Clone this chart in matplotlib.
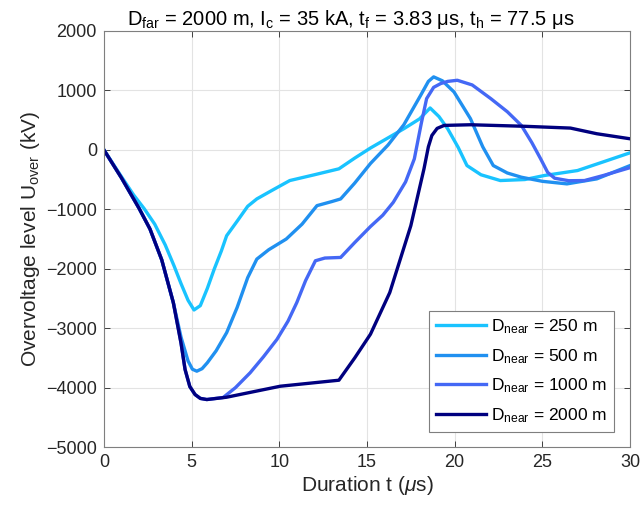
import numpy as np
import matplotlib.pyplot as plt

plt.rcParams['font.family'] = ['Liberation Sans', 'DejaVu Sans']
plt.rcParams['mathtext.fontset'] = 'custom'
plt.rcParams['mathtext.rm'] = 'Liberation Sans'
plt.rcParams['mathtext.it'] = 'Liberation Sans:italic'

# D_near = 250 m
t_250 = [0, 1.0, 1.7, 2.3, 2.9, 3.5, 4.0, 4.4, 4.8, 5.14, 5.5, 5.9, 6.3, 6.7, 7.0,
         7.6, 8.2, 8.72, 9.6, 10.6, 12.0, 13.4, 14.3, 15.2, 16.2, 17.1, 18.0, 18.6,
         19.1, 19.6, 20.2, 20.7, 21.5, 22.6, 24.0, 25.1, 27.0, 28.5, 30]
u_250 = [0, -450, -760, -990, -1250, -1600, -1950, -2250, -2530, -2693, -2620, -2330,
         -2000, -1700, -1445, -1200, -950, -826, -680, -517, -420, -320, -140, 30, 200,
         354, 520, 703, 560, 354, 40, -265, -420, -517, -500, -433, -349, -200, -50]

# D_near = 500 m
t_500 = [0, 1.0, 2.0, 2.63, 3.3, 3.96, 4.4, 4.8, 5.05, 5.3, 5.6, 5.9, 6.4, 7.0, 7.6,
         8.2, 8.72, 9.4, 10.4, 11.3, 12.15, 13.0, 13.5, 14.3, 15.2, 16.2, 17.1, 18.06,
         18.5, 18.8, 19.3, 19.96, 20.9, 21.6, 22.2, 23.0, 23.8, 25.0, 26.4, 28.1, 30]
u_500 = [0, -470, -980, -1332, -1850, -2568, -3150, -3550, -3690, -3722, -3680, -3580,
         -3380, -3075, -2650, -2150, -1838, -1680, -1500, -1250, -939, -870, -826, -560,
         -230, 80, 420, 916, 1150, 1226, 1160, 973, 523, 50, -265, -390, -461, -530,
         -573, -489, -265]

# D_near = 1000 m
t_1000 = [0, 1.0, 2.0, 2.63, 3.3, 3.96, 4.4, 4.63, 4.9, 5.2, 5.5, 5.87, 6.8, 7.5, 8.34,
          9.1, 9.87, 10.5, 11.0, 11.5, 12.06, 12.6, 13.5, 14.3, 15.2, 15.9, 16.5, 17.2,
          17.7, 18.1, 18.4, 18.8, 19.2, 19.6, 20.15, 21.0, 22.06, 23.0, 23.8, 24.4, 24.9,
          25.3, 25.7, 26.5, 27.4, 28.5, 30]
u_1000 = [0, -470, -980, -1332, -1850, -2568, -3250, -3693, -3980, -4115, -4180, -4199,
          -4165, -4000, -3749, -3480, -3187, -2880, -2568, -2200, -1866, -1820, -1810,
          -1560, -1290, -1100, -883, -540, -152, 450, 860, 1050, 1113, 1150, 1169, 1090,
          860, 640, 410, 120, -152, -380, -478, -520, -517, -430, -300]

# D_near = 2000 m
t_2000 = [0, 1.0, 2.0, 2.63, 3.3, 3.96, 4.4, 4.63, 4.9, 5.2, 5.5, 5.87, 7.0, 10.06, 13.4,
          14.3, 15.2, 16.3, 17.5, 18.25, 18.5, 18.7, 19.0, 19.4, 20.9, 24.0, 26.6, 28.1, 30]
u_2000 = [0, -470, -980, -1332, -1850, -2568, -3250, -3693, -3980, -4115, -4180, -4199,
          -4160, -3975, -3874, -3500, -3100, -2400, -1276, -320, 50, 241, 360, 410, 421,
          395, 365, 270, 185]

series = [
    (t_250, u_250, '#19c3ff', '250 m'),
    (t_500, u_500, '#2090f0', '500 m'),
    (t_1000, u_1000, '#4468f5', '1000 m'),
    (t_2000, u_2000, '#00007f', '2000 m'),
]

fig = plt.figure(figsize=(6.41, 5.14), dpi=100)
ax = fig.add_axes([0.162, 0.130, 0.821, 0.810])

for t, u, c, lab in series:
    ax.plot(t, u, color=c, lw=2.4, label=r'D$_{\mathrm{near}}$ = ' + lab,
            solid_joinstyle='round')

ax.set_xlim(0, 30)
ax.set_ylim(-5000, 2000)
ax.set_xticks(np.arange(0, 31, 5))
ax.set_yticks(np.arange(-5000, 2001, 1000))
ax.grid(True, color='#e3e3e3', lw=0.8)
ax.set_axisbelow(True)
ax.tick_params(direction='in', top=True, right=True, labelsize=13, colors='#262626',
               length=4, width=0.6, pad=5)
for s in ax.spines.values():
    s.set_color('#7f7f7f')
    s.set_linewidth(0.8)

ax.set_xlabel(r'Duration t ($\mu$s)', fontsize=15, color='#262626', labelpad=2)
ax.set_ylabel(r'Overvoltage level U$_{\mathrm{over}}$ (kV)', fontsize=15,
              color='#262626', labelpad=3)
ax.set_title(r'D$_{\mathrm{far}}$ = 2000 m, I$_{\mathrm{c}}$ = 35 kA, '
             r't$_{\mathrm{f}}$ = 3.83 $\mathrm{\mu}$s, t$_{\mathrm{h}}$ = 77.5 $\mathrm{\mu}$s',
             fontsize=14.5, pad=4, x=0.47)

leg = ax.legend(loc='lower right', fontsize=12.5, fancybox=False, framealpha=1,
                edgecolor='#7f7f7f', handlelength=2.9, borderaxespad=0.9,
                labelspacing=0.62, handletextpad=0.3, borderpad=0.4)
leg.get_frame().set_linewidth(0.8)

fig.savefig('out.png', dpi=100)
